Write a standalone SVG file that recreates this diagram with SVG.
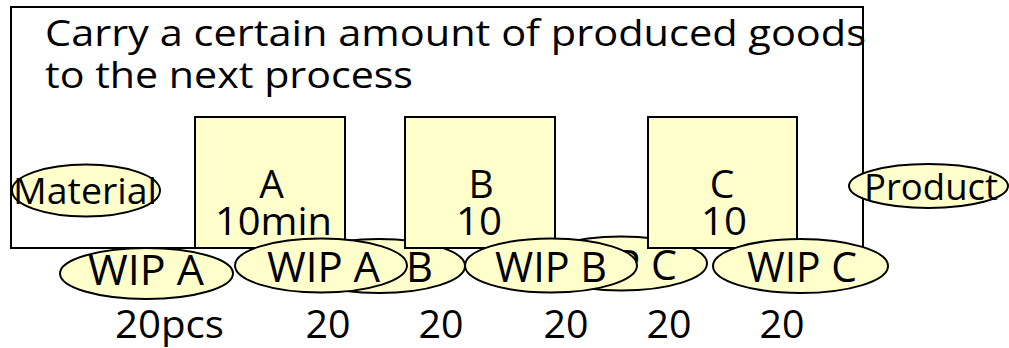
<svg xmlns="http://www.w3.org/2000/svg" width="1009" height="348" viewBox="0 0 1009 348">
  <style>
    text { font-family: "Open Sans", "Liberation Sans", Arial, sans-serif; fill: #000; }
    .frame { fill: none; stroke: #000; stroke-width: 2; }
    .proc { fill: #FFFFCC; stroke: #000; stroke-width: 2; }
    .stock { fill: #FFFFCC; stroke: #000; stroke-width: 2; }
    .title { font-size: 37px; }
    .lbl { font-size: 39px; text-anchor: middle; }
    .end { font-size: 36px; }
    .wip { font-size: 42px; }
    .qty { font-size: 38px; }
  </style>

  <!-- transport batch frame -->
  <g id="frame">
    <rect class="frame" x="11" y="7" width="852" height="241"/>
    <text class="title" x="45" y="46" textLength="821" lengthAdjust="spacingAndGlyphs">Carry a certain amount of produced goods</text>
    <text class="title" x="45" y="88" textLength="368" lengthAdjust="spacingAndGlyphs">to the next process</text>
  </g>

  <!-- stocks queued behind the processes -->
  <g id="wip-b-queued">
    <ellipse class="stock" cx="379" cy="266" rx="86" ry="27"/>
    <text class="wip" x="433" y="282" text-anchor="end" textLength="113" lengthAdjust="spacingAndGlyphs">WIP B</text>
  </g>
  <g id="wip-c-queued">
    <ellipse class="stock" cx="621" cy="263.5" rx="86" ry="27"/>
    <text class="wip" x="677" y="280" text-anchor="end" textLength="111" lengthAdjust="spacingAndGlyphs">WIP C</text>
  </g>

  <!-- processes -->
  <g id="process-a">
    <rect class="proc" x="195" y="117" width="150" height="131"/>
    <text class="lbl" x="271.5" y="198">A</text>
    <text class="lbl" x="273.5" y="235" textLength="117" lengthAdjust="spacingAndGlyphs">10min</text>
  </g>
  <g id="process-b">
    <rect class="proc" x="405" y="117" width="150" height="131"/>
    <text class="lbl" x="481" y="198">B</text>
    <text class="lbl" x="479" y="235" textLength="46" lengthAdjust="spacingAndGlyphs">10</text>
  </g>
  <g id="process-c">
    <rect class="proc" x="648" y="117" width="149" height="131"/>
    <text class="lbl" x="722" y="198">C</text>
    <text class="lbl" x="724" y="235" textLength="46" lengthAdjust="spacingAndGlyphs">10</text>
  </g>

  <!-- inflow / outflow -->
  <g id="material">
    <ellipse class="stock" cx="86" cy="190.5" rx="74" ry="26"/>
    <text class="end" x="13" y="204" textLength="144" lengthAdjust="spacingAndGlyphs">Material</text>
  </g>
  <g id="product">
    <ellipse class="stock" cx="928.5" cy="186" rx="79.5" ry="22"/>
    <text class="end" x="864" y="200" textLength="134" lengthAdjust="spacingAndGlyphs">Product</text>
  </g>

  <!-- work in process -->
  <g id="wip-a-in">
    <ellipse class="stock" cx="146.5" cy="273.5" rx="86.5" ry="25.5"/>
    <text class="wip" x="88" y="285" textLength="116" lengthAdjust="spacingAndGlyphs">WIP A</text>
  </g>
  <g id="wip-a-out">
    <ellipse class="stock" cx="321" cy="265.5" rx="86" ry="27"/>
    <text class="wip" x="267" y="282" textLength="113" lengthAdjust="spacingAndGlyphs">WIP A</text>
  </g>
  <g id="wip-b">
    <ellipse class="stock" cx="551" cy="265.5" rx="86" ry="27"/>
    <text class="wip" x="495" y="282" textLength="112" lengthAdjust="spacingAndGlyphs">WIP B</text>
  </g>
  <g id="wip-c">
    <ellipse class="stock" cx="800.5" cy="266" rx="87.5" ry="27"/>
    <text class="wip" x="747" y="282" textLength="110" lengthAdjust="spacingAndGlyphs">WIP C</text>
  </g>

  <!-- quantities -->
  <g id="quantities">
    <text class="qty" x="115" y="338" textLength="109" lengthAdjust="spacingAndGlyphs">20pcs</text>
    <text class="qty" x="328" y="338" text-anchor="middle" textLength="45" lengthAdjust="spacingAndGlyphs">20</text>
    <text class="qty" x="441" y="338" text-anchor="middle" textLength="45" lengthAdjust="spacingAndGlyphs">20</text>
    <text class="qty" x="566" y="338" text-anchor="middle" textLength="45" lengthAdjust="spacingAndGlyphs">20</text>
    <text class="qty" x="669" y="338" text-anchor="middle" textLength="45" lengthAdjust="spacingAndGlyphs">20</text>
    <text class="qty" x="782" y="338" text-anchor="middle" textLength="45" lengthAdjust="spacingAndGlyphs">20</text>
  </g>

  <g id="connectors"/>
</svg>
